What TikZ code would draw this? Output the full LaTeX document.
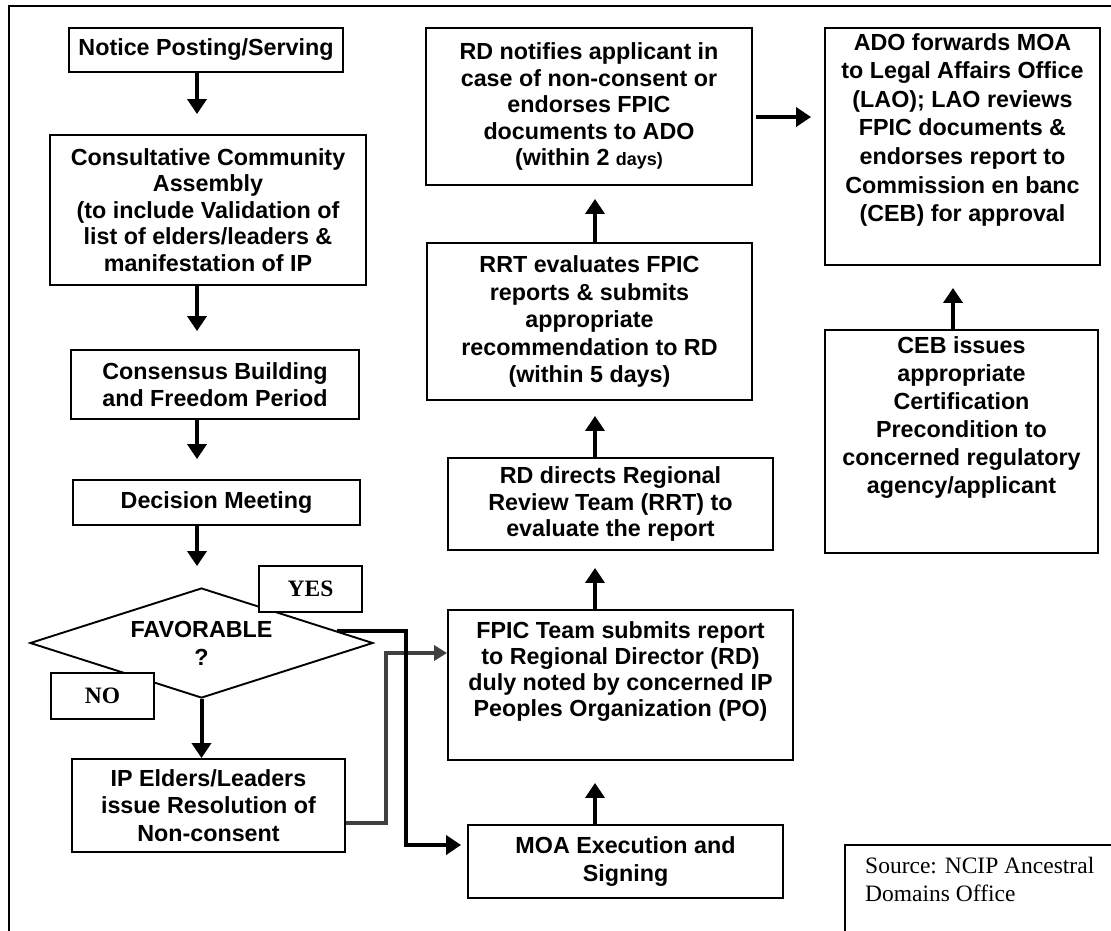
\documentclass[tikz,border=0pt]{standalone}
\usepackage{fontspec}
\setmainfont{Liberation Serif}
\setsansfont{Liberation Sans}
\usetikzlibrary{shapes.geometric,arrows.meta,calc}
\begin{document}
\begin{tikzpicture}[x=1pt,y=-1pt,
  box/.style={draw, line width=1.9pt, fill=white, inner sep=0pt, align=center,
    font=\sffamily\bfseries\fontsize{23.3}{26.5}\selectfont},
  txt/.style={inner sep=0pt, align=center,
    font=\sffamily\bfseries\fontsize{23.3}{28}\selectfont},
  arr/.style={line width=4pt, -{Triangle[length=15pt,width=19pt]}},
  arrno/.style={line width=4pt, draw=black!75, -{Triangle[length=13pt,width=15pt]}},
  lab/.style={draw, line width=1.9pt, fill=white, inner sep=0pt,
    minimum width=103pt, minimum height=46pt,
    font=\rmfamily\bfseries\fontsize{23.5}{26}\selectfont}
]
\useasboundingbox (0,0) rectangle (1111,930);

% outer frame
\draw[line width=2pt] (9,940) -- (9,6) -- (1120,6);

% left column
\node[box, minimum width=274pt, minimum height=44pt] (notice) at (206,50) {Notice Posting/Serving};
\node[box, minimum width=316pt, minimum height=150pt] (consult) at (208,210)
  {Consultative Community\\Assembly\\(to include Validation of\\list of elders/leaders \&\\manifestation of IP};
\node[box, minimum width=288pt, minimum height=69pt] (consensus) at (215,384.5)
  {Consensus Building\\and Freedom Period};
\node[box, minimum width=287pt, minimum height=45pt] (decision) at (216.5,502.5) {Decision Meeting};
\node[draw, line width=1.9pt, diamond, aspect=3.118, minimum width=343pt, minimum height=110pt,
  inner sep=0pt, align=center, font=\sffamily\bfseries\fontsize{23.3}{28}\selectfont] (dia) at (201.5,643)
  {FAVORABLE\\?};
\node[lab] (yes) at (310.5,589) {YES};
\node[lab] (no) at (102.5,696) {NO};
\node[box, minimum width=273pt, minimum height=93pt, font=\sffamily\bfseries\fontsize{23.3}{27.5}\selectfont] (ip) at (208.5,805.5)
  {IP Elders/Leaders\\issue Resolution of\\Non-consent};

% middle column
\node[box, minimum width=326pt, minimum height=157pt] (rdn) at (589,106.5)
  {RD notifies applicant in\\case of non-consent or\\endorses FPIC\\documents to ADO\\(within 2 {\fontsize{18}{26.5}\selectfont days)}};
\node[box, minimum width=325pt, minimum height=157pt, font=\sffamily\bfseries\fontsize{23.3}{27.5}\selectfont] (rrt) at (589.5,321.5)
  {RRT evaluates FPIC\\reports \& submits\\appropriate\\recommendation to RD\\(within 5 days)};
\node[box, minimum width=325pt, minimum height=92pt] (rdd) at (610.5,504)
  {RD directs Regional\\Review Team (RRT) to\\evaluate the report};
\node[box, minimum width=345pt, minimum height=150pt] (fpic) at (620.5,685) {};
\node[txt, anchor=north, font=\sffamily\bfseries\fontsize{23.3}{26}\selectfont] (fpict) at ([yshift=-12pt]fpic.north)
  {FPIC Team submits report\\to Regional Director (RD)\\duly noted by concerned IP\\Peoples Organization (PO)};
\node[box, minimum width=315pt, minimum height=73pt, font=\sffamily\bfseries\fontsize{23.3}{28}\selectfont] (moa) at (625.5,861.5)
  {MOA Execution and\\Signing};

% right column
\node[box, minimum width=275pt, minimum height=237pt] (ado) at (962.5,146.5) {};
\node[txt, anchor=north, font=\sffamily\bfseries\fontsize{23.3}{28.6}\selectfont] (adot) at ([yshift=-6pt]ado.north)
  {ADO forwards MOA\\to Legal Affairs Office\\(LAO); LAO reviews\\FPIC documents \&\\endorses report to\\Commission en banc\\(CEB) for approval};
\node[box, minimum width=273pt, minimum height=223pt] (ceb) at (961.5,441.5) {};
\node[txt, anchor=north] (cebt) at ([yshift=-7pt]ceb.north)
  {CEB issues\\appropriate\\Certification\\Precondition to\\concerned regulatory\\agency/applicant};

% source box
\draw[line width=1.9pt] (1125,845) -- (845,845) -- (845,945);
\node[anchor=north west, inner sep=0pt, align=left, font=\rmfamily\fontsize{23.5}{27.5}\selectfont] (src) at (865,857)
  {Source: NCIP Ancestral\\Domains Office};

% column guides
\coordinate (cL) at (197,0);
\coordinate (cM) at (595,0);
\coordinate (cR) at (953,0);

% left column arrows
\draw[arr, shorten >=20pt] (notice.south -| cL) -- (consult.north -| cL);
\draw[arr, shorten >=18pt] (consult.south -| cL) -- (consensus.north -| cL);
\draw[arr, shorten >=20pt] (consensus.south -| cL) -- (decision.north -| cL);
\draw[arr, shorten >=21pt] (decision.south -| cL) -- (dia.north -| cL);
\draw[arr] (dia.south) -- (ip.north -| dia.south);

% middle column arrows
\draw[arr, shorten >=22pt] (moa.north -| cM) -- (fpic.south -| cM);
\draw[arr, shorten >=17pt] (fpic.north -| cM) -- (rdd.south -| cM);
\draw[arr, shorten >=15pt] (rdd.north -| cM) -- (rrt.south -| cM);
\draw[arr, shorten >=13pt] (rrt.north -| cM) -- (rdn.south -| cM);

% right column arrows
\draw[arr, shorten <=3pt, shorten >=13pt] ([yshift=-10.5pt]rdn.east) -- ([yshift=-10.5pt]rdn.east -| ado.west);
\draw[arr, shorten >=22pt] (ceb.north -| cR) -- (ado.south -| cR);

% decision branches
\coordinate (yv) at (406,0);
\coordinate (nv) at (386,653);
\draw[arrno] ([yshift=-17.5pt]ip.east) -| (nv) -- (nv -| fpic.west);
\draw[arr, shorten >=6pt] (dia.5) -- (dia.5 -| yv) |- ([yshift=16.5pt]moa.west);
\end{tikzpicture}
\end{document}
